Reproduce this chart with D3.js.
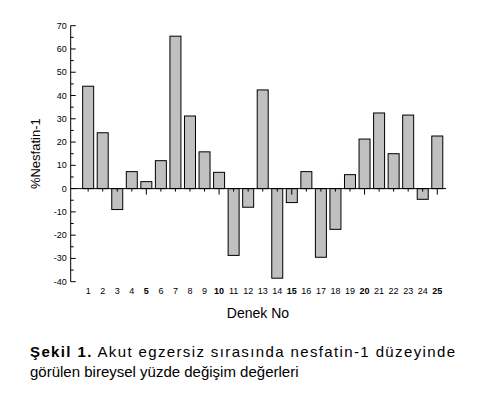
<!DOCTYPE html>
<html><head><meta charset="utf-8">
<script src="https://cdn.jsdelivr.net/npm/d3@7"></script>
<style>body{margin:0;background:#fff}</style>
</head><body>
<svg id="c" width="481" height="402"></svg>
<script>
var subjects = d3.range(1, 26);
var values = [44, 24, -9, 7.3, 3, 12, 65.5, 31.2, 15.8, 7, -28.7, -8, 42.4, -38.5, -6, 7.3, -29.5, -17.5, 6, 21.3, 32.5, 15, 31.6, -4.6, 22.6];
var yTicks = [-40, -30, -20, -10, 0, 10, 20, 30, 40, 50, 60, 70];

var svg = d3.select("#c"), font = "Arial, 'Liberation Sans', sans-serif";
var x = d3.scaleLinear().domain([-0.2, 25.6]).range([70.7, 446]);
var y = d3.scaleLinear().domain([-40, 70]).range([281.7, 25.7]);
var bw = 11;

// bars
svg.selectAll("rect.b").data(values).enter().append("rect")
  .attr("x", function(d, i){ return x(subjects[i]) - bw/2; })
  .attr("y", function(d){ return y(Math.max(0, d)); })
  .attr("width", bw)
  .attr("height", function(d){ return Math.abs(y(d) - y(0)); })
  .attr("fill", "#c0c0c0").attr("stroke", "#000").attr("stroke-width", 1);

// y axis
var ya = svg.append("g").attr("transform", "translate(" + x.range()[0] + ",0)");
ya.append("line").attr("y1", y(-40)).attr("y2", y(70)).attr("stroke", "#000");
yTicks.forEach(function(t){
  ya.append("line").attr("x1", 0).attr("x2", 5).attr("y1", y(t)).attr("y2", y(t)).attr("stroke", "#000");
  ya.append("text").attr("x", -4).attr("y", y(t) + 3).attr("text-anchor", "end")
    .attr("font-family", font).attr("font-size", 9).text(t);
  if (t < 70) ya.append("line").attr("x1", 0).attr("x2", 3).attr("y1", y(t + 5)).attr("y2", y(t + 5)).attr("stroke", "#000");
});

// x axis at zero
var xa = svg.append("g");
xa.append("line").attr("x1", x.range()[0]).attr("x2", x.range()[1]).attr("y1", y(0)).attr("y2", y(0)).attr("stroke", "#000");
subjects.forEach(function(s){
  var major = s % 5 === 0;
  xa.append("line").attr("x1", x(s)).attr("x2", x(s)).attr("y1", y(0)).attr("y2", y(0) + (major ? 6 : 3)).attr("stroke", "#000");
  xa.append("text").attr("x", x(s)).attr("y", 294).attr("text-anchor", "middle")
    .attr("font-family", font).attr("font-size", 9).attr("font-weight", major ? "bold" : "normal").text(s);
});

svg.append("text").attr("x", 258).attr("y", 318).attr("text-anchor", "middle")
  .attr("font-family", font).attr("font-size", 14).text("Denek No");
svg.append("text").attr("transform", "translate(40," + y(15) + ") rotate(-90)").attr("text-anchor", "middle")
  .attr("font-family", font).attr("font-size", 13).text("%Nesfatin-1");

// caption
var cap = svg.append("text").attr("x", 30).attr("y", 357).attr("font-family", font).attr("font-size", 15)
  .attr("textLength", 425).attr("lengthAdjust", "spacing");
cap.append("tspan").attr("font-weight", "bold").text("Şekil 1.");
cap.append("tspan").text(" Akut egzersiz sırasında nesfatin-1 düzeyinde");
svg.append("text").attr("x", 30).attr("y", 377).attr("font-family", font).attr("font-size", 15)
  .text("görülen bireysel yüzde değişim değerleri");
</script>
</body></html>
